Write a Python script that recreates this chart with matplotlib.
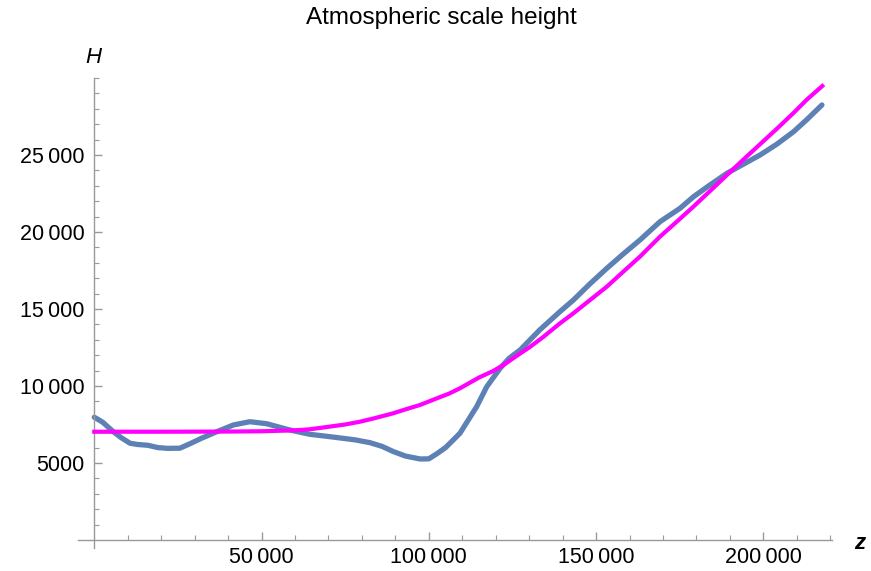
import matplotlib.pyplot as plt
import numpy as np

# scale height (z and H in metres)
z_data = [0, 2500, 5700, 8000, 10700, 13000, 16000, 19000, 22000, 25600,
          28600, 32000, 36600, 41600, 46500, 51500, 58500, 64500, 70000,
          74400, 78000, 82400, 86000, 89400, 93000, 97400, 100000, 102400,
          105000, 109300, 114300, 117300, 121300, 124000, 127300, 133200,
          139200, 143200, 148000, 153200, 158000, 163100, 169100, 175100,
          179100, 184000, 189100, 194000, 199000, 204000, 209000, 213000,
          217500]
H_data = [7970, 7650, 7030, 6650, 6280, 6200, 6150, 6000, 5950, 5960,
          6250, 6600, 7030, 7470, 7680, 7550, 7140, 6860, 6720,
          6600, 6500, 6320, 6080, 5740, 5450, 5260, 5270, 5600,
          6000, 6930, 8660, 9950, 11150, 11800, 12340, 13650,
          14830, 15580, 16600, 17640, 18550, 19480, 20670, 21540,
          22290, 23050, 23810, 24400, 25000, 25700, 26510, 27300,
          28250]

# model curve
z_fit = [0, 20000, 40000, 50000, 55000, 60000, 64500, 70000, 75000, 79400,
         84000, 89400, 93000, 97400, 102400, 106000, 109300, 115000, 119000,
         122300, 126000, 130000, 134000, 139200, 143200, 148000, 153200,
         158000, 163100, 169100, 174000, 179100, 184000, 189100, 194000,
         199000, 204000, 209000, 213000, 217600]
H_fit = [7030, 7030, 7040, 7060, 7090, 7120, 7190, 7350, 7500, 7680,
         7920, 8230, 8480, 8770, 9200, 9500, 9850, 10550, 10950,
         11360, 11920, 12500, 13150, 14070, 14720, 15550, 16450,
         17400, 18400, 19700, 20650, 21650, 22650, 23700, 24700,
         25700, 26700, 27730, 28600, 29480]

x_ticks = [50000, 100000, 150000, 200000]
x_labels = ["50\u2009000", "100\u2009000", "150\u2009000", "200\u2009000"]
y_ticks = [5000, 10000, 15000, 20000, 25000]
y_labels = ["5000", "10\u2009000", "15\u2009000", "20\u2009000", "25\u2009000"]

plt.rcParams['font.family'] = ['Liberation Sans', 'DejaVu Sans']

fig = plt.figure(figsize=(8.71, 5.71), dpi=100)
ax = fig.add_axes([0.0898, 0.0403, 0.8654, 0.8231])

ax.plot(z_data, H_data, color="#5E81B5", lw=3.8, solid_capstyle="round",
        solid_joinstyle="round", zorder=2)
ax.plot(z_fit, H_fit, color="#FF00FF", lw=3.0, zorder=3)

ax.set_xlim(-4800, 220500)
ax.set_ylim(-520, 30000)

for side in ["top", "right"]:
    ax.spines[side].set_visible(False)
ax.spines["left"].set_position(("data", 0))
ax.spines["bottom"].set_position(("data", 0))
for side in ["left", "bottom"]:
    ax.spines[side].set_color("#999999")
    ax.spines[side].set_linewidth(1.0)

ax.set_xticks(x_ticks)
ax.set_xticklabels(x_labels)
ax.set_yticks(y_ticks)
ax.set_yticklabels(y_labels)
ax.set_xticks(np.arange(10000, 220001, 10000), minor=True)
ax.set_yticks(np.arange(1000, 30001, 1000), minor=True)
ax.tick_params(which="major", direction="in", length=6, width=1,
               color="#999999", labelsize=15.5)
ax.tick_params(which="minor", direction="in", length=3.5, width=0.8,
               color="#999999")
ax.tick_params(axis="x", which="major", pad=5)
ax.tick_params(axis="y", which="major", pad=7)

fig.text(0.507, 0.968, "Atmospheric scale height", ha="center", va="center",
         fontsize=17.5)
fig.text(0.107, 0.90, "H", ha="center", va="center", fontsize=16,
         style="italic")
fig.text(0.987, 0.049, "z", ha="center", va="center", fontsize=16,
         style="italic", fontweight="bold")

fig.savefig("out.png", dpi=100)
